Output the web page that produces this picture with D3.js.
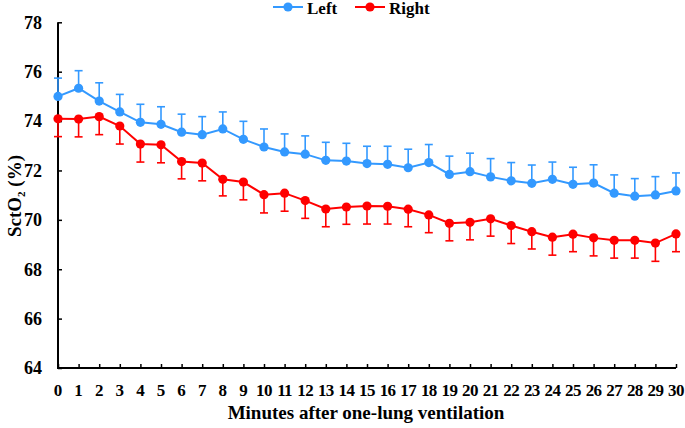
<!DOCTYPE html>
<html><head><meta charset="utf-8">
<script src="https://cdn.jsdelivr.net/npm/d3@7"></script>
<style>body{margin:0;background:#fff}svg{display:block}</style>
</head><body>
<svg id="c" width="685" height="428"></svg>
<script>
const minutes = d3.range(0, 31);
const leftMean = [75.0,75.33,74.81,74.37,73.95,73.87,73.55,73.45,73.68,73.26,72.95,72.75,72.66,72.41,72.38,72.28,72.25,72.11,72.32,71.84,71.95,71.74,71.58,71.48,71.64,71.44,71.49,71.08,70.96,71.01,71.17];
const leftSD   = [0.74,0.71,0.74,0.71,0.73,0.71,0.73,0.73,0.69,0.73,0.73,0.73,0.74,0.73,0.72,0.70,0.73,0.75,0.73,0.74,0.75,0.74,0.74,0.74,0.70,0.69,0.74,0.74,0.71,0.74,0.73];
const rightMean = [74.09,74.08,74.18,73.80,73.07,73.04,72.36,72.30,71.64,71.53,71.02,71.08,70.78,70.44,70.52,70.56,70.55,70.43,70.20,69.86,69.90,70.04,69.77,69.52,69.30,69.42,69.27,69.17,69.17,69.06,69.43];
const rightSD   = [0.72,0.72,0.73,0.73,0.73,0.73,0.70,0.72,0.67,0.72,0.74,0.73,0.72,0.72,0.70,0.73,0.72,0.71,0.72,0.71,0.71,0.70,0.73,0.70,0.73,0.71,0.73,0.72,0.72,0.74,0.72];
const yTicks = [64,66,68,70,72,74,76,78];
const seriesNames = ["Left","Right"];
const seriesColors = ["#3399FF","#FF0000"];

const FF = "Liberation Serif";
const svg = d3.select("#c");
const x = d3.scaleLinear().domain([0,30]).range([58,676]);
const y = d3.scaleLinear().domain([64,78]).range([368,22.3]);

function txt(sel){ return sel.append("text").attr("font-family",FF).attr("font-weight","bold"); }

// axes
const yAxis = svg.append("g").attr("transform","translate(58,0)")
  .call(d3.axisRight(y).tickValues(yTicks).tickSize(4).tickFormat(""));
yAxis.select(".domain").attr("stroke","#000").attr("stroke-width",2).attr("d","M0,"+y(78)+"V"+y(64));
yAxis.selectAll(".tick line").attr("stroke","#000").attr("stroke-width",1.5);
yTicks.forEach(t=>{
  txt(svg).attr("x",42).attr("y",y(t)).attr("dy","0.35em").attr("text-anchor","end")
    .attr("font-size",18).text(t);
});
const xAxis = svg.append("g").attr("transform","translate(0,368)")
  .call(d3.axisTop(x).tickValues(minutes).tickSize(4).tickFormat(""));
xAxis.select(".domain").attr("stroke","#000").attr("stroke-width",2).attr("d","M"+(x(0)-1)+",0H"+x(30));
xAxis.selectAll(".tick line").attr("stroke","#000").attr("stroke-width",1.5);
minutes.forEach(m=>{
  txt(svg).attr("x",x(m)).attr("y",396).attr("text-anchor","middle")
    .attr("font-size",17)
    .attr("letter-spacing", m>=10 ? "-0.6" : "0").text(m);
});

// titles
txt(svg).attr("x",366).attr("y",419).attr("text-anchor","middle")
  .attr("font-size",19)
  .text("Minutes after one-lung ventilation");
const yt = txt(svg).attr("transform","translate(21,196) rotate(-90)").attr("text-anchor","middle")
  .attr("font-size",19);
yt.append("tspan").text("SctO");
yt.append("tspan").attr("font-size",11).attr("dy",4).text("2");
yt.append("tspan").attr("dy",-4).text(" (%)");

// series
const data = [leftMean, rightMean];
const sds = [leftSD, rightSD];
const line = d3.line().x((d,i)=>x(minutes[i])).y(d=>y(d));
data.forEach((vals,k)=>{
  const col = seriesColors[k];
  const g = svg.append("g");
  const dir = k===0 ? 1 : -1;
  vals.forEach((v,i)=>{
    const e = v + dir*sds[k][i];
    g.append("line").attr("x1",x(i)).attr("x2",x(i)).attr("y1",y(v)).attr("y2",y(e))
      .attr("stroke",col).attr("stroke-width",1.6);
    g.append("line").attr("x1",x(i)-4).attr("x2",x(i)+4).attr("y1",y(e)).attr("y2",y(e))
      .attr("stroke",col).attr("stroke-width",1.6);
  });
  g.append("path").datum(vals).attr("d",line).attr("fill","none").attr("stroke",col).attr("stroke-width",2);
  g.selectAll("circle").data(vals).enter().append("circle")
    .attr("cx",(d,i)=>x(i)).attr("cy",d=>y(d)).attr("r",4.6).attr("fill",col);
});

// legend
const legX = [273, 355];
seriesNames.forEach((n,k)=>{
  const lg = svg.append("g");
  lg.append("line").attr("x1",legX[k]).attr("x2",legX[k]+30).attr("y1",7).attr("y2",7)
    .attr("stroke",seriesColors[k]).attr("stroke-width",2);
  lg.append("circle").attr("cx",legX[k]+15).attr("cy",7).attr("r",4.6).attr("fill",seriesColors[k]);
  txt(lg).attr("x",legX[k]+34).attr("y",14).attr("font-size",17).text(n);
});
</script>
</body></html>
